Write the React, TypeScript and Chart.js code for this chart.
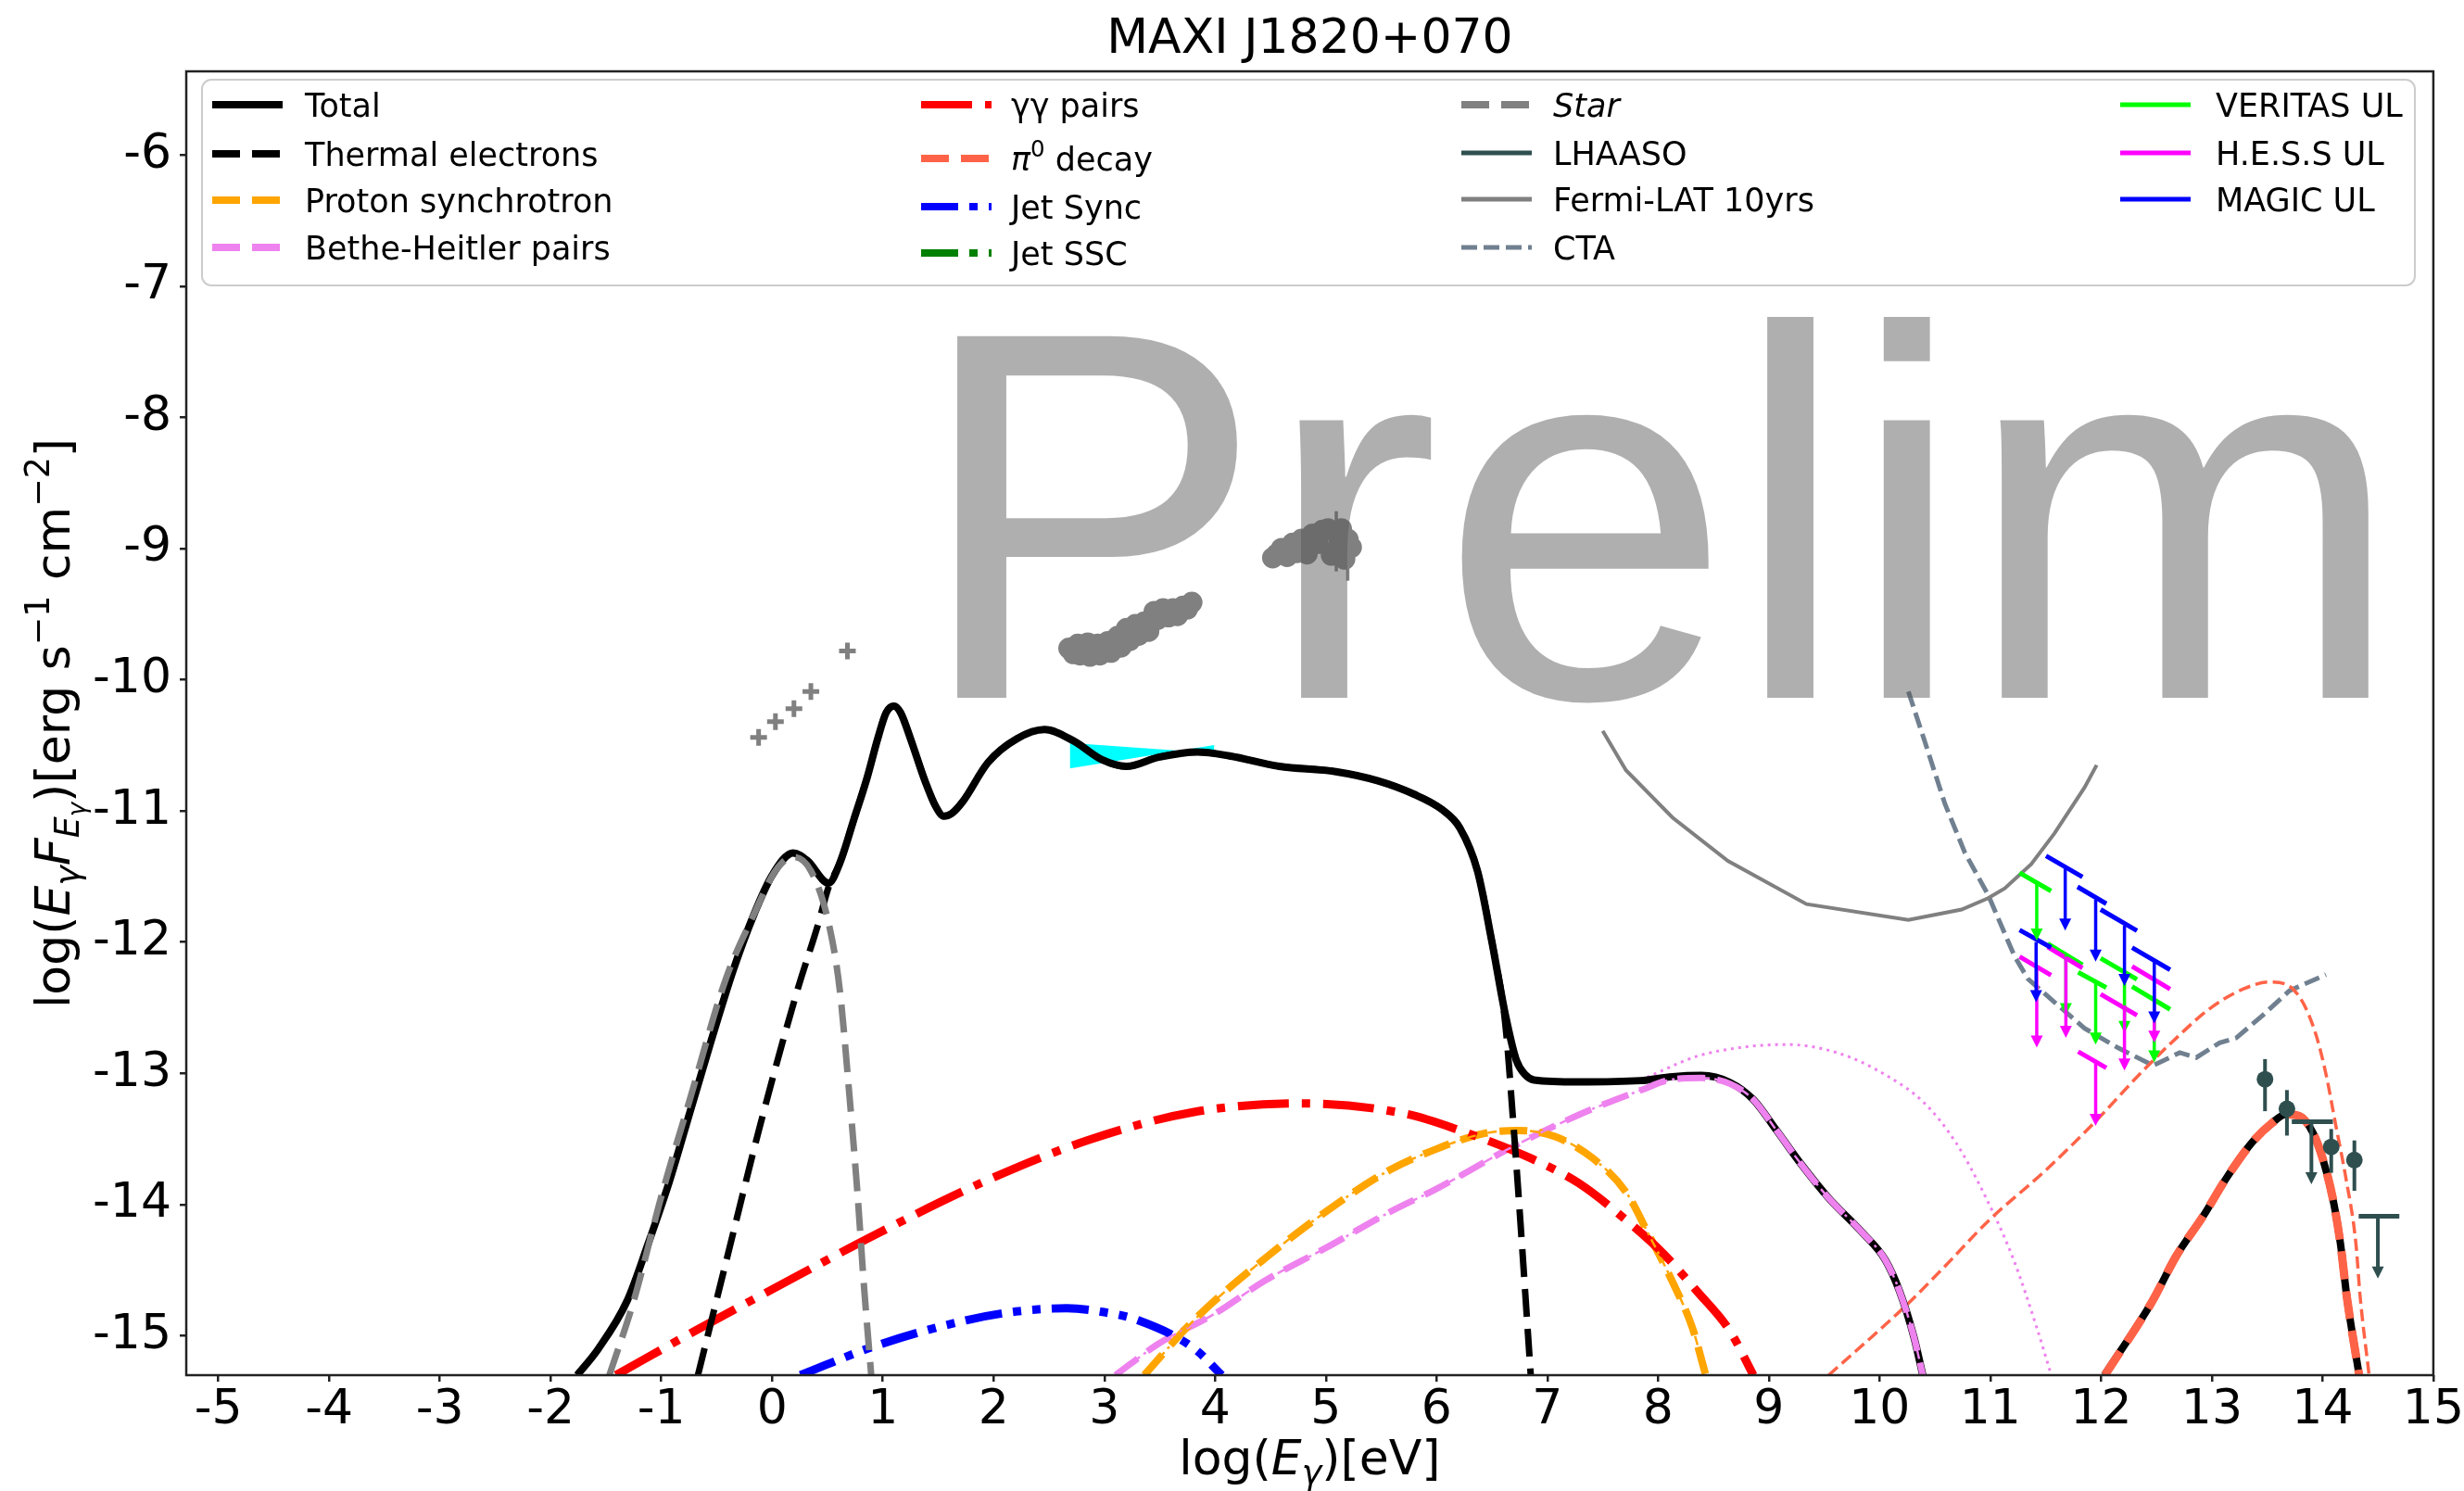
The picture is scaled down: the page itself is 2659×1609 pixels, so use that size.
import React, { useEffect, useRef } from "react";
import { Chart, registerables } from "chart.js";
Chart.register(...registerables);

// ---------------- data ----------------
const chartTitle = "MAXI J1820+070";
const watermarkText = "Prelim";
const watermarkPos = { x: 1.283, y: -10.137 };

const xTickValues = [-5, -4, -3, -2, -1, 0, 1, 2, 3, 4, 5, 6, 7, 8, 9, 10, 11, 12, 13, 14, 15];
const yTickValues = [-6, -7, -8, -9, -10, -11, -12, -13, -14, -15];

const seriesNames = [
  "Total", "Thermal electrons", "Proton synchrotron", "Bethe-Heitler pairs",
  "γγ pairs", "π0 decay", "Jet Sync", "Jet SSC",
  "Star", "LHAASO", "Fermi-LAT 10yrs", "CTA",
  "VERITAS UL", "H.E.S.S UL", "MAGIC UL",
];

const totalX = [-1.76, -1.57, -1.31, -1.12, -0.93, -0.74, -0.55, -0.35, -0.16, 0.0, 0.19, 0.32, 0.51, 0.61, 0.74, 0.86, 0.95, 1.03, 1.10, 1.16, 1.25, 1.38, 1.48, 1.55, 1.62, 1.72, 1.95, 2.21, 2.46, 2.72, 2.98, 3.20, 3.49, 3.84, 4.13, 4.58, 5.09, 5.47, 5.79, 6.05, 6.21, 6.37, 6.50, 6.62, 6.72, 6.80, 6.88, 7.28, 7.84, 8.13, 8.39, 8.65, 8.86, 9.07, 9.29, 9.54, 9.84, 10.05, 10.18, 10.31, 10.39, 11.2, 12.03, 12.46, 12.68, 12.92, 13.13, 13.37, 13.55, 13.67, 13.79, 13.91, 14.0, 14.09, 14.16, 14.22, 14.33];
const totalY = [-15.3, -15.10, -14.735, -14.30, -13.83, -13.29, -12.75, -12.21, -11.78, -11.49, -11.32, -11.38, -11.55, -11.40, -11.06, -10.74, -10.46, -10.25, -10.20, -10.25, -10.45, -10.77, -10.97, -11.04, -11.02, -10.93, -10.63, -10.45, -10.38, -10.465, -10.61, -10.66, -10.59, -10.55, -10.58, -10.66, -10.70, -10.77, -10.87, -10.99, -11.13, -11.46, -12.0, -12.55, -12.90, -13.01, -13.05, -13.065, -13.055, -13.025, -13.016, -13.07, -13.2, -13.435, -13.69, -13.95, -14.21, -14.42, -14.66, -15.01, -15.3, null, -15.3, -14.74, -14.39, -14.09, -13.80, -13.52, -13.374, -13.312, -13.325, -13.449, -13.647, -13.944, -14.29, -14.71, -15.3];

const thermalX = [-0.67, -0.42, -0.10, 0.22, 0.42, 0.51, 0.61, 0.74, 0.86, 0.95, 1.03, 1.10, 1.16, 1.25, 1.38, 1.48, 1.55, 1.62, 1.72, 1.95, 2.21, 2.46, 2.72, 2.98, 3.20, 3.49, 3.84, 4.13, 4.58, 5.09, 5.47, 5.79, 6.05, 6.21, 6.37, 6.50, 6.62, 6.69, 6.75, 6.85];
const thermalY = [-15.3, -14.45, -13.37, -12.39, -11.85, -11.58, -11.40, -11.06, -10.74, -10.46, -10.25, -10.20, -10.25, -10.45, -10.77, -10.97, -11.04, -11.02, -10.93, -10.63, -10.45, -10.38, -10.465, -10.61, -10.66, -10.59, -10.55, -10.58, -10.66, -10.70, -10.77, -10.87, -10.99, -11.13, -11.46, -12.0, -12.62, -13.35, -14.05, -15.3];

const protonX = [3.36, 3.81, 4.45, 5.09, 5.57, 6.0, 6.43, 6.73, 7.07, 7.41, 7.71, 7.92, 8.13, 8.31, 8.43];
const protonY = [-15.3, -14.88, -14.41, -14.0, -13.74, -13.576, -13.458, -13.435, -13.482, -13.647, -13.905, -14.235, -14.588, -14.94, -15.3];

const bhX = [3.1, 3.49, 4.0, 4.45, 5.0, 5.57, 6.0, 6.64, 7.28, 7.84, 8.13, 8.39, 8.65, 8.86, 9.07, 9.29, 9.54, 9.84, 10.05, 10.18, 10.31, 10.39];
const bhY = [-15.3, -15.06, -14.83, -14.58, -14.33, -14.06, -13.88, -13.58, -13.317, -13.129, -13.046, -13.035, -13.08, -13.2, -13.435, -13.69, -13.95, -14.21, -14.42, -14.66, -15.01, -15.3];

const bhThinX = [7.9, 8.35, 8.77, 9.16, 9.63, 10.05, 10.4, 10.69, 10.95, 11.21, 11.42, 11.55];
const bhThinY = [-13.03, -12.87, -12.80, -12.78, -12.846, -13.01, -13.223, -13.529, -13.93, -14.42, -14.94, -15.3];

const ggX = [-1.41, -0.67, -0.03, 0.93, 1.89, 2.85, 3.81, 4.77, 5.73, 6.21, 6.85, 7.28, 7.71, 8.05, 8.35, 8.65, 8.86];
const ggY = [-15.3, -14.95, -14.66, -14.23, -13.834, -13.51, -13.294, -13.229, -13.31, -13.435, -13.647, -13.835, -14.117, -14.376, -14.659, -14.965, -15.3];

const pi0X = [12.035, 12.46, 12.68, 12.92, 13.13, 13.37, 13.55, 13.67, 13.79, 13.91, 14.0, 14.09, 14.16, 14.22, 14.33];
const pi0Y = [-15.3, -14.74, -14.39, -14.09, -13.80, -13.52, -13.374, -13.312, -13.325, -13.449, -13.647, -13.944, -14.29, -14.71, -15.3];

const pi0ThinX = [9.54, 10.23, 10.59, 10.99, 11.49, 11.94, 12.38, 12.68, 12.98, 13.28, 13.52, 13.67, 13.82, 13.94, 14.03, 14.12, 14.21, 14.30, 14.34, 14.42];
const pi0ThinY = [-15.3, -14.776, -14.47, -14.118, -13.746, -13.374, -12.978, -12.73, -12.507, -12.358, -12.304, -12.321, -12.457, -12.705, -13.003, -13.399, -13.796, -14.29, -14.71, -15.3];

const jetSyncX = [0.255, 0.93, 1.76, 2.2, 2.66, 3.0, 3.30, 3.81, 4.06];
const jetSyncY = [-15.3, -15.078, -14.88, -14.815, -14.79, -14.82, -14.88, -15.096, -15.3];

const jetSscX: number[] = [];
const jetSscY: number[] = [];

const starX = [-1.47, -1.25, -0.99, -0.74, -0.42, -0.16, 0.03, 0.19, 0.35, 0.51, 0.61, 0.70, 0.77, 0.83, 0.895];
const starY = [-15.3, -14.735, -13.906, -13.19, -12.285, -11.78, -11.456, -11.35, -11.456, -11.853, -12.357, -13.186, -13.906, -14.627, -15.3];

const fermiX = [7.50, 7.71, 8.13, 8.63, 9.34, 10.26, 10.74, 10.98, 11.13, 11.37, 11.58, 11.85, 11.96];
const fermiY = [-10.39, -10.69, -11.05, -11.38, -11.71, -11.83, -11.751, -11.665, -11.59, -11.404, -11.169, -10.822, -10.65];

const ctaX = [10.26, 10.40, 10.59, 10.77, 10.98, 11.22, 11.34, 11.58, 11.85, 12.15, 12.47, 12.71, 12.86, 13.07, 13.22, 13.46, 13.70, 14.03];
const ctaY = [-10.09, -10.45, -10.946, -11.318, -11.64, -12.11, -12.28, -12.458, -12.656, -12.804, -12.94, -12.842, -12.879, -12.767, -12.73, -12.557, -12.37, -12.247];

// bow-tie (cyan)
const bowX = [2.688, 3.993];
const bowUpperY = [-10.481, -10.559];
const bowLowerY = [-10.676, -10.497];

// X-ray data (gray)
const xrayX = [2.68, 2.72, 2.76, 2.78, 2.85, 2.87, 2.94, 2.96, 3.03, 3.06, 3.12, 3.15, 3.20, 3.23, 3.28, 3.31, 3.36, 3.40, 3.45, 3.48, 3.53, 3.58, 3.62, 3.66, 3.71, 3.75, 3.79,
  4.52, 4.56, 4.60, 4.65, 4.70, 4.74, 4.78, 4.83, 4.88, 4.93, 4.97, 5.02, 5.05, 5.09, 5.14, 5.17, 5.20, 5.23, 5.12];
const xrayY = [-9.76, -9.80, -9.73, -9.81, -9.72, -9.82, -9.73, -9.81, -9.71, -9.79, -9.67, -9.75, -9.61, -9.70, -9.58, -9.66, -9.56, -9.63, -9.48, -9.54, -9.46, -9.52, -9.46, -9.51, -9.44, -9.46, -9.41,
  -9.07, -9.04, -9.00, -9.06, -8.96, -9.03, -8.93, -9.04, -8.89, -8.96, -8.86, -8.85, -9.05, -8.88, -8.85, -9.08, -8.93, -8.99, -8.97];
const xrayErrX = [5.094, 5.198];
const xrayErrHi = [-8.715, -9.0];
const xrayErrLo = [-9.174, -9.245];

// optical/UV (gray crosses)
const optX = [-0.122, 0.03, 0.197, 0.35, 0.68];
const optY = [-10.44, -10.32, -10.22, -10.09, -9.78];

// LHAASO
const lhaasoX = [13.48, 13.678, 14.078, 14.287];
const lhaasoY = [-13.045, -13.27, -13.56, -13.66];
const lhaasoHi = [-12.891, -13.127, -13.424, -13.511];
const lhaasoLo = [-13.288, -13.474, -13.758, -13.895];
const lhaasoUlX1 = [13.722, 14.326];
const lhaasoUlX2 = [14.093, 14.693];
const lhaasoUlY = [-13.369, -14.088];
const lhaasoUlXc = [13.899, 14.499];
const lhaasoUlTip = [-13.845, -14.564];

// VERITAS UL
const verX1 = [11.264, 11.518, 11.793, 11.996, 12.28];
const verY1 = [-11.471, -12.011, -12.23, -12.123, -12.338];
const verX2 = [11.548, 11.832, 12.047, 12.324, 12.623];
const verY2 = [-11.61, -12.172, -12.346, -12.284, -12.512];
const verXc = [11.419, 11.682, 11.951, 12.211, 12.48];
const verYc = [-11.553, -12.1, -12.309, -12.247, -12.433];
const verTip = [-11.987, -12.556, -12.78, -12.693, -12.916];

// H.E.S.S UL
const hesX1 = [11.264, 11.518, 11.793, 11.996, 12.28];
const hesY1 = [-12.11, -12.036, -12.834, -12.396, -12.185];
const hesX2 = [11.548, 11.832, 12.047, 12.324, 12.623];
const hesY2 = [-12.252, -12.197, -12.958, -12.557, -12.358];
const hesXc = [11.419, 11.682, 11.951, 12.211, 12.48];
const hesYc = [-12.185, -12.11, -12.903, -12.482, -12.284];
const hesTip = [-12.804, -12.73, -13.4, -12.978, -12.767];

// MAGIC UL
const magX1 = [11.264, 11.503, 11.787, 11.996, 12.28];
const magY1 = [-11.907, -11.342, -11.578, -11.751, -12.041];
const magX2 = [11.548, 11.832, 12.047, 12.324, 12.623];
const magY2 = [-12.041, -11.503, -11.707, -11.912, -12.21];
const magXc = [11.413, 11.676, 11.951, 12.211, 12.48];
const magYc = [-11.999, -11.43, -11.677, -11.875, -12.148];
const magTip = [-12.458, -11.912, -12.148, -12.334, -12.62];

// ---------------- helpers ----------------
const FONT = "'DejaVu Sans', sans-serif";
const pts = (xs: number[], ys: (number | null)[]) => xs.map((x, i) => ({ x, y: ys[i] }));
const segs = (x1: number[], y1: number[], x2: number[], y2: number[]) => {
  const out: { x: number; y: number | null }[] = [];
  x1.forEach((_, i) => {
    out.push({ x: x1[i], y: y1[i] }, { x: x2[i], y: y2[i] }, { x: x2[i], y: null });
  });
  return out;
};

const C = {
  total: "#000000", proton: "#FFA500", bh: "#EE82EE", gg: "#FF0000", pi0: "#FF6347",
  jet: "#0000FF", ssc: "#008000", star: "#808080", lhaaso: "#2F4F4F", fermi: "#808080",
  cta: "#708090", ver: "#00FF00", hes: "#FF00FF", mag: "#0000FF", bow: "#00FFFF", xray: "#808080",
};

const DASH = [30, 13];
const DASHDOT = [55, 14, 9, 14];
const DASHDOTDOT = [40, 12, 9, 12, 9, 12];

function curve(label: string, xs: number[], ys: (number | null)[], color: string, width: number, dash: number[], order: number, smooth = true) {
  return {
    label, data: pts(xs, ys), showLine: true, borderColor: color, backgroundColor: color,
    borderWidth: width, borderDash: dash, pointRadius: 0, pointHoverRadius: 0, pointHitRadius: 0,
    cubicInterpolationMode: smooth ? "monotone" : "default", tension: 0, fill: false, order, clip: 0,
    spanGaps: false,
  };
}

type Part = { t: string; it?: boolean; lv?: number };
const fontFor = (s: number, it?: boolean) => `${it ? "italic " : ""}${s}px ${FONT}`;
function drawRich(ctx: CanvasRenderingContext2D, parts: Part[], x: number, y: number, size: number, align: "left" | "center") {
  const geo = parts.map((p) => {
    const lv = p.lv || 0;
    let s = size, dy = 0;
    if (lv === 1) { s = size * 0.7; dy = size * 0.2; }
    else if (lv === 2) { s = size * 0.5; dy = size * 0.33; }
    else if (lv === -1) { s = size * 0.7; dy = -size * 0.42; }
    ctx.font = fontFor(s, p.it);
    return { p, s, dy, w: ctx.measureText(p.t).width };
  });
  const total = geo.reduce((a, g) => a + g.w, 0);
  let cx = align === "center" ? x - total / 2 : x;
  ctx.textAlign = "left";
  ctx.textBaseline = "alphabetic";
  for (const g of geo) {
    ctx.font = fontFor(g.s, g.p.it);
    ctx.fillText(g.p.t, cx, y + g.dy);
    cx += g.w;
  }
}

const legendParts: Part[][] = seriesNames.map((n) => {
  if (n === "π0 decay") return [{ t: "π", it: true }, { t: "0", lv: -1 }, { t: " decay" }];
  if (n === "Star") return [{ t: "Star", it: true }];
  return [{ t: n }];
});
const legendStyle = [
  { c: C.total, w: 8, d: [] as number[] }, { c: C.total, w: 8, d: DASH }, { c: C.proton, w: 8, d: DASH }, { c: C.bh, w: 8, d: DASH },
  { c: C.gg, w: 8, d: DASHDOT }, { c: C.pi0, w: 8, d: DASH }, { c: C.jet, w: 8, d: DASHDOTDOT }, { c: C.ssc, w: 8, d: DASHDOTDOT },
  { c: C.star, w: 8, d: DASH }, { c: C.lhaaso, w: 5, d: [] }, { c: C.fermi, w: 5, d: [] }, { c: C.cta, w: 5, d: [17, 7] },
  { c: C.ver, w: 5, d: [] }, { c: C.hes, w: 5, d: [] }, { c: C.mag, w: 5, d: [] },
];
const legendCols = [{ hx: 229, tx: 329 }, { hx: 994, tx: 1091 }, { hx: 1577, tx: 1676 }, { hx: 2288, tx: 2391 }];
const legendRows = [[113, 166, 216, 267], [113, 171, 223, 273], [113, 165, 215, 267], [113, 165, 215]];

const customPlugin = {
  id: "custom",
  afterDatasetsDraw(chart: any) {
    const { ctx, chartArea: a, scales } = chart;
    const px = (v: number) => scales.x.getPixelForValue(v);
    const py = (v: number) => scales.y.getPixelForValue(v);
    ctx.save();
    ctx.beginPath();
    ctx.rect(a.left, a.top, a.right - a.left, a.bottom - a.top);
    ctx.clip();
    ctx.setLineDash([]);
    ctx.lineCap = "butt";

    // error bars
    const ebar = (xs: number[], hi: number[], lo: number[], color: string, w: number) => {
      ctx.strokeStyle = color; ctx.lineWidth = w;
      xs.forEach((x, i) => {
        ctx.beginPath(); ctx.moveTo(px(x), py(hi[i])); ctx.lineTo(px(x), py(lo[i])); ctx.stroke();
      });
    };
    ebar(xrayErrX, xrayErrHi, xrayErrLo, C.xray, 3.5);
    ebar(lhaasoX, lhaasoHi, lhaasoLo, C.lhaaso, 4);

    // upper-limit arrows
    const arrows = (xc: number[], yc: number[], tip: number[], color: string, w: number) => {
      ctx.strokeStyle = color; ctx.fillStyle = color; ctx.lineWidth = w;
      xc.forEach((x, i) => {
        const X = px(x), Y0 = py(yc[i]), Y1 = py(tip[i]);
        ctx.beginPath(); ctx.moveTo(X, Y0); ctx.lineTo(X, Y1 - 10); ctx.stroke();
        ctx.beginPath(); ctx.moveTo(X - 6.5, Y1 - 13); ctx.lineTo(X + 6.5, Y1 - 13); ctx.lineTo(X, Y1); ctx.closePath(); ctx.fill();
      });
    };
    arrows(verXc, verYc, verTip, C.ver, 3.5);
    arrows(hesXc, hesYc, hesTip, C.hes, 3.5);
    arrows(magXc, magYc, magTip, C.mag, 3.5);
    arrows(lhaasoUlXc, lhaasoUlY, lhaasoUlTip, C.lhaaso, 4);

    // watermark
    ctx.font = "567px 'Liberation Sans', sans-serif";
    ctx.fillStyle = "rgba(85,85,85,0.47)";
    ctx.textAlign = "left";
    ctx.textBaseline = "alphabetic";
    ctx.fillText(watermarkText, px(watermarkPos.x), py(watermarkPos.y));
    ctx.restore();
  },
  afterDraw(chart: any) {
    const { ctx, chartArea: a } = chart;
    ctx.save();
    // frame
    ctx.setLineDash([]);
    ctx.strokeStyle = "#222";
    ctx.lineWidth = 2.5;
    ctx.strokeRect(a.left, a.top, a.right - a.left, a.bottom - a.top);

    const cx = (a.left + a.right) / 2;
    const cy = (a.top + a.bottom) / 2;
    ctx.fillStyle = "#000";
    // title
    drawRich(ctx, [{ t: chartTitle }], cx, 57, 52, "center");
    // x label
    drawRich(ctx, [{ t: "log(" }, { t: "E", it: true }, { t: "γ", it: true, lv: 1 }, { t: ")[eV]" }], cx, 1591, 52, "center");
    // y label
    ctx.save();
    ctx.translate(75, cy);
    ctx.rotate(-Math.PI / 2);
    drawRich(ctx, [
      { t: "log(" }, { t: "E", it: true }, { t: "γ", it: true, lv: 1 }, { t: "F", it: true },
      { t: "E", it: true, lv: 1 }, { t: "γ", it: true, lv: 2 }, { t: ")[erg s" }, { t: "−1", lv: -1 },
      { t: " cm" }, { t: "−2", lv: -1 }, { t: "]" },
    ], 0, 0, 52, "center");
    ctx.restore();

    // legend
    ctx.beginPath();
    if ((ctx as any).roundRect) (ctx as any).roundRect(218, 86, 2388, 222, 10);
    else ctx.rect(218, 86, 2388, 222);
    ctx.fillStyle = "rgba(255,255,255,0.8)";
    ctx.fill();
    ctx.strokeStyle = "#cccccc";
    ctx.lineWidth = 2;
    ctx.stroke();
    const colOf = (i: number) => (i < 4 ? 0 : i < 8 ? 1 : i < 12 ? 2 : 3);
    seriesNames.forEach((_, i) => {
      const c = colOf(i);
      const r = i - c * 4;
      const ry = legendRows[c][r];
      const { hx, tx } = legendCols[c];
      const st = legendStyle[i];
      ctx.beginPath();
      ctx.setLineDash(st.d);
      ctx.lineDashOffset = 0;
      ctx.lineCap = "butt";
      ctx.strokeStyle = st.c;
      ctx.lineWidth = st.w;
      ctx.moveTo(hx, ry);
      ctx.lineTo(hx + 76, ry);
      ctx.stroke();
      ctx.setLineDash([]);
      ctx.fillStyle = "#000";
      drawRich(ctx, legendParts[i], tx, ry + 12.6, 35, "left");
    });
    ctx.restore();
  },
};

export default function App() {
  const ref = useRef<HTMLCanvasElement>(null);
  useEffect(() => {
    const datasets: any[] = [
      curve("Fermi-LAT 10yrs", fermiX, fermiY, C.fermi, 4, [], 30, false),
      curve("CTA", ctaX, ctaY, C.cta, 5, [17, 7], 30, false),
      curve("π0 decay (thin)", pi0ThinX, pi0ThinY, C.pi0, 3.5, [13, 6], 29),
      curve("Bethe-Heitler (thin)", bhThinX, bhThinY, C.bh, 3, [3, 5], 29),
      {
        label: "bowtie-upper", data: pts(bowX, bowUpperY), showLine: true, borderWidth: 0,
        borderColor: "rgba(0,0,0,0)", backgroundColor: C.bow, pointRadius: 0, fill: "+1", order: 26, tension: 0,
      },
      {
        label: "bowtie-lower", data: pts(bowX, bowLowerY), showLine: true, borderWidth: 0,
        borderColor: "rgba(0,0,0,0)", backgroundColor: C.bow, pointRadius: 0, fill: false, order: 26, tension: 0,
      },
      {
        label: "X-ray", data: pts(xrayX, xrayY), showLine: false, pointRadius: 11.5, pointStyle: "circle",
        pointBackgroundColor: C.xray, pointBorderWidth: 0, pointBorderColor: C.xray, order: 25,
      },
      {
        label: "optical", data: pts(optX, optY), showLine: false, pointRadius: 9, pointStyle: "cross",
        pointBorderWidth: 5, pointBorderColor: C.xray, order: 25,
      },
      curve("Total", totalX, totalY, C.total, 8, [], 22),
      curve("γγ pairs", ggX, ggY, C.gg, 9, DASHDOT, 20),
      curve("Jet Sync", jetSyncX, jetSyncY, C.jet, 9, DASHDOTDOT, 20),
      curve("Jet SSC", jetSscX, jetSscY, C.ssc, 9, DASHDOTDOT, 20),
      curve("Proton synchrotron", protonX, protonY, C.proton, 8, DASH, 20),
      curve("Proton synchrotron (thin)", protonX, protonY, C.proton, 2.5, [10, 5, 3, 5], 19),
      curve("Bethe-Heitler pairs", bhX, bhY, C.bh, 7, DASH, 20),
      curve("Bethe-Heitler pairs (thin)", bhX, bhY, C.bh, 2.5, [10, 5, 3, 5], 19),
      curve("Star", starX, starY, C.star, 7, DASH, 18),
      curve("Thermal electrons", thermalX, thermalY, C.total, 7, DASH, 18),
      curve("π0 decay", pi0X, pi0Y, C.pi0, 9, DASH, 18),
      { ...curve("VERITAS UL", [], [], C.ver, 5, [], 10, false), data: segs(verX1, verY1, verX2, verY2) },
      { ...curve("H.E.S.S UL", [], [], C.hes, 5, [], 9, false), data: segs(hesX1, hesY1, hesX2, hesY2) },
      { ...curve("MAGIC UL", [], [], C.mag, 5, [], 8, false), data: segs(magX1, magY1, magX2, magY2) },
      { ...curve("LHAASO UL", [], [], C.lhaaso, 5, [], 5, false), data: segs(lhaasoUlX1, lhaasoUlY, lhaasoUlX2, lhaasoUlY) },
      {
        label: "LHAASO", data: pts(lhaasoX, lhaasoY), showLine: false, pointRadius: 9, pointStyle: "circle",
        pointBackgroundColor: C.lhaaso, pointBorderWidth: 0, pointBorderColor: C.lhaaso, order: 5,
      },
    ];

    const tickFont = { family: "DejaVu Sans", size: 52 };
    const gridOpts = { display: true, drawOnChartArea: false, drawTicks: true, tickLength: 7, color: "#222", lineWidth: 2.5 };
    const chart = new Chart(ref.current as HTMLCanvasElement, {
      type: "scatter",
      data: { datasets },
      options: {
        responsive: true,
        maintainAspectRatio: false,
        animation: false,
        devicePixelRatio: 1,
        events: [],
        layout: { padding: { left: 0, right: 32, top: 77, bottom: 0 } },
        plugins: { legend: { display: false }, tooltip: { enabled: false }, title: { display: false } },
        scales: {
          x: {
            type: "linear", min: -5.29, max: 15,
            afterBuildTicks: (s: any) => { s.ticks = xTickValues.map((v) => ({ value: v })); },
            afterFit: (s: any) => { s.height = 125; },
            grid: gridOpts, border: { display: false },
            ticks: { font: tickFont, color: "#000", padding: 0, autoSkip: false, maxRotation: 0, callback: (v: any) => String(v) },
          },
          y: {
            type: "linear", min: -15.3, max: -5.363,
            afterBuildTicks: (s: any) => { s.ticks = yTickValues.map((v) => ({ value: v })); },
            afterFit: (s: any) => { s.width = 201; },
            grid: gridOpts, border: { display: false },
            ticks: { font: tickFont, color: "#000", padding: 9, autoSkip: false, callback: (v: any) => String(v) },
          },
        },
      } as any,
      plugins: [customPlugin],
    } as any);
    return () => chart.destroy();
  }, []);
  return (
    <div style={{ position: "absolute", left: 0, top: 0, width: 2659, height: 1609, background: "#fff" }}>
      <canvas ref={ref} />
    </div>
  );
}
